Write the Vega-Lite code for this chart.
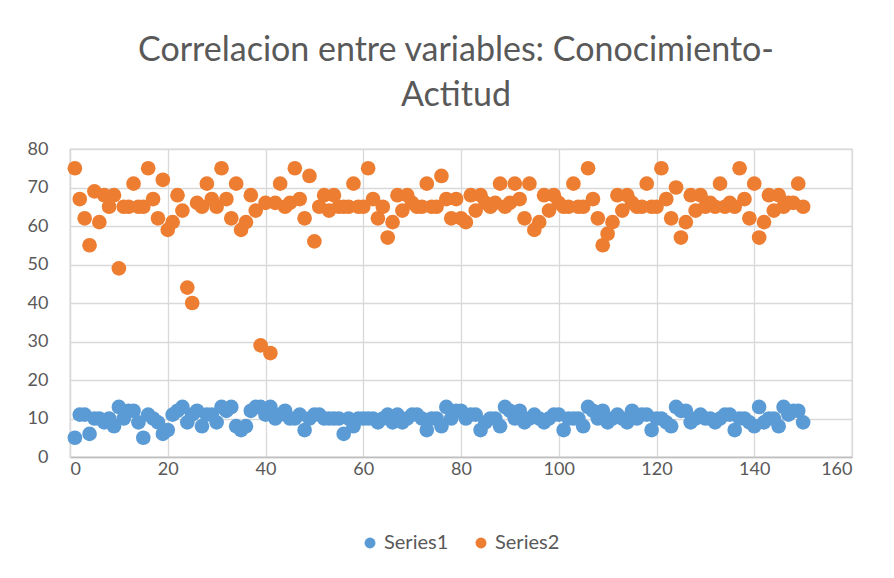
{
  "$schema": "https://vega.github.io/schema/vega-lite/v6.json",
  "width": 782,
  "height": 308,
  "autosize": {"type": "none"},
  "padding": {"left": 70, "top": 149, "right": 42, "bottom": 121},
  "background": "white",
  "title": {
    "text": ["Correlacion entre variables: Conocimiento-", "Actitud"],
    "font": "Lato",
    "fontSize": 34,
    "fontWeight": "normal",
    "color": "#595959",
    "lineHeight": 45,
    "anchor": "middle",
    "dx": -5,
    "offset": 27
  },
  "data": {"values": [
    {"x":1,"s1":5,"s2":75},{"x":2,"s1":11,"s2":67},{"x":3,"s1":11,"s2":62},{"x":4,"s1":6,"s2":55},{"x":5,"s1":10,"s2":69},
    {"x":6,"s1":10,"s2":61},{"x":7,"s1":9,"s2":68},{"x":8,"s1":10,"s2":65},{"x":9,"s1":8,"s2":68},{"x":10,"s1":13,"s2":49},
    {"x":11,"s1":10,"s2":65},{"x":12,"s1":12,"s2":65},{"x":13,"s1":12,"s2":71},{"x":14,"s1":9,"s2":65},{"x":15,"s1":5,"s2":65},
    {"x":16,"s1":11,"s2":75},{"x":17,"s1":10,"s2":67},{"x":18,"s1":9,"s2":62},{"x":19,"s1":6,"s2":72},{"x":20,"s1":7,"s2":59},
    {"x":21,"s1":11,"s2":61},{"x":22,"s1":12,"s2":68},{"x":23,"s1":13,"s2":64},{"x":24,"s1":9,"s2":44},{"x":25,"s1":11,"s2":40},
    {"x":26,"s1":12,"s2":66},{"x":27,"s1":8,"s2":65},{"x":28,"s1":11,"s2":71},{"x":29,"s1":11,"s2":67},{"x":30,"s1":9,"s2":65},
    {"x":31,"s1":13,"s2":75},{"x":32,"s1":12,"s2":67},{"x":33,"s1":13,"s2":62},{"x":34,"s1":8,"s2":71},{"x":35,"s1":7,"s2":59},
    {"x":36,"s1":8,"s2":61},{"x":37,"s1":12,"s2":68},{"x":38,"s1":13,"s2":64},{"x":39,"s1":13,"s2":29},{"x":40,"s1":11,"s2":66},
    {"x":41,"s1":13,"s2":27},{"x":42,"s1":10,"s2":66},{"x":43,"s1":11,"s2":71},{"x":44,"s1":12,"s2":65},{"x":45,"s1":10,"s2":66},
    {"x":46,"s1":10,"s2":75},{"x":47,"s1":11,"s2":67},{"x":48,"s1":7,"s2":62},{"x":49,"s1":10,"s2":73},{"x":50,"s1":11,"s2":56},
    {"x":51,"s1":11,"s2":65},{"x":52,"s1":10,"s2":68},{"x":53,"s1":10,"s2":64},{"x":54,"s1":10,"s2":68},{"x":55,"s1":10,"s2":65},
    {"x":56,"s1":6,"s2":65},{"x":57,"s1":10,"s2":65},{"x":58,"s1":8,"s2":71},{"x":59,"s1":10,"s2":65},{"x":60,"s1":10,"s2":65},
    {"x":61,"s1":10,"s2":75},{"x":62,"s1":10,"s2":67},{"x":63,"s1":9,"s2":62},{"x":64,"s1":10,"s2":65},{"x":65,"s1":11,"s2":57},
    {"x":66,"s1":9,"s2":61},{"x":67,"s1":11,"s2":68},{"x":68,"s1":9,"s2":64},{"x":69,"s1":10,"s2":68},{"x":70,"s1":11,"s2":66},
    {"x":71,"s1":11,"s2":65},{"x":72,"s1":10,"s2":65},{"x":73,"s1":7,"s2":71},{"x":74,"s1":10,"s2":65},{"x":75,"s1":10,"s2":65},
    {"x":76,"s1":8,"s2":73},{"x":77,"s1":13,"s2":67},{"x":78,"s1":10,"s2":62},{"x":79,"s1":12,"s2":67},{"x":80,"s1":12,"s2":62},
    {"x":81,"s1":10,"s2":61},{"x":82,"s1":11,"s2":68},{"x":83,"s1":11,"s2":64},{"x":84,"s1":7,"s2":68},{"x":85,"s1":9,"s2":66},
    {"x":86,"s1":10,"s2":65},{"x":87,"s1":10,"s2":66},{"x":88,"s1":8,"s2":71},{"x":89,"s1":13,"s2":65},{"x":90,"s1":12,"s2":66},
    {"x":91,"s1":10,"s2":71},{"x":92,"s1":12,"s2":67},{"x":93,"s1":9,"s2":62},{"x":94,"s1":10,"s2":71},{"x":95,"s1":11,"s2":59},
    {"x":96,"s1":10,"s2":61},{"x":97,"s1":9,"s2":68},{"x":98,"s1":10,"s2":64},{"x":99,"s1":11,"s2":68},{"x":100,"s1":11,"s2":66},
    {"x":101,"s1":7,"s2":65},{"x":102,"s1":10,"s2":65},{"x":103,"s1":10,"s2":71},{"x":104,"s1":10,"s2":65},{"x":105,"s1":8,"s2":65},
    {"x":106,"s1":13,"s2":75},{"x":107,"s1":12,"s2":67},{"x":108,"s1":10,"s2":62},{"x":109,"s1":12,"s2":55},{"x":110,"s1":9,"s2":58},
    {"x":111,"s1":10,"s2":61},{"x":112,"s1":11,"s2":68},{"x":113,"s1":10,"s2":64},{"x":114,"s1":9,"s2":68},{"x":115,"s1":12,"s2":66},
    {"x":116,"s1":10,"s2":65},{"x":117,"s1":11,"s2":65},{"x":118,"s1":11,"s2":71},{"x":119,"s1":7,"s2":65},{"x":120,"s1":10,"s2":65},
    {"x":121,"s1":10,"s2":75},{"x":122,"s1":9,"s2":67},{"x":123,"s1":8,"s2":62},{"x":124,"s1":13,"s2":70},{"x":125,"s1":12,"s2":57},
    {"x":126,"s1":12,"s2":61},{"x":127,"s1":9,"s2":68},{"x":128,"s1":10,"s2":64},{"x":129,"s1":11,"s2":68},{"x":130,"s1":10,"s2":65},
    {"x":131,"s1":10,"s2":66},{"x":132,"s1":9,"s2":65},{"x":133,"s1":10,"s2":71},{"x":134,"s1":11,"s2":65},{"x":135,"s1":11,"s2":66},
    {"x":136,"s1":7,"s2":65},{"x":137,"s1":10,"s2":75},{"x":138,"s1":10,"s2":67},{"x":139,"s1":9,"s2":62},{"x":140,"s1":8,"s2":71},
    {"x":141,"s1":13,"s2":57},{"x":142,"s1":9,"s2":61},{"x":143,"s1":10,"s2":68},{"x":144,"s1":10,"s2":64},{"x":145,"s1":8,"s2":68},
    {"x":146,"s1":13,"s2":65},{"x":147,"s1":11,"s2":66},{"x":148,"s1":12,"s2":66},{"x":149,"s1":12,"s2":71},{"x":150,"s1":9,"s2":65}
  ]},
  "transform": [
    {"fold": ["s1", "s2"], "as": ["key", "value"]},
    {"lookup": "key", "from": {"data": {"values": [{"key": "s1", "series": "Series1"}, {"key": "s2", "series": "Series2"}]}, "key": "key", "fields": ["series"]}}
  ],
  "mark": {"type": "point", "shape": "circle", "filled": true, "opacity": 1, "size": 215},
  "encoding": {
    "x": {"field": "x", "type": "quantitative", "scale": {"domain": [0, 160], "nice": false},
      "axis": {"values": [0, 20, 40, 60, 80, 100, 120, 140, 160], "title": null, "grid": true, "gridColor": "#d9d9d9", "gridWidth": 1.3,
        "domainColor": "#bfbfbf", "domainWidth": 1.5, "ticks": false, "labelFont": "Lato", "labelFontSize": 18, "labelColor": "#595959", "labelPadding": 3}},
    "y": {"field": "value", "type": "quantitative", "scale": {"domain": [0, 80], "nice": false},
      "axis": {"values": [0, 10, 20, 30, 40, 50, 60, 70, 80], "title": null, "grid": true, "gridColor": "#d9d9d9", "gridWidth": 1.3,
        "domainColor": "#d9d9d9", "domainWidth": 1.3, "ticks": false, "labelFont": "Lato", "labelFontSize": 18, "labelColor": "#595959", "labelPadding": 22}},
    "color": {"field": "series", "type": "nominal", "scale": {"domain": ["Series1", "Series2"], "range": ["#5B9BD5", "#ED7D31"]},
      "legend": {"title": null, "orient": "none", "legendX": 290, "legendY": 384, "direction": "horizontal", "padding": 0, "labelFont": "Lato", "labelFontSize": 20, "labelColor": "#595959",
        "symbolSize": 120, "symbolType": "circle", "columnPadding": 22, "labelOffset": 4}}
  },
  "config": {"view": {"stroke": "#d9d9d9", "strokeWidth": 1.3}}
}
